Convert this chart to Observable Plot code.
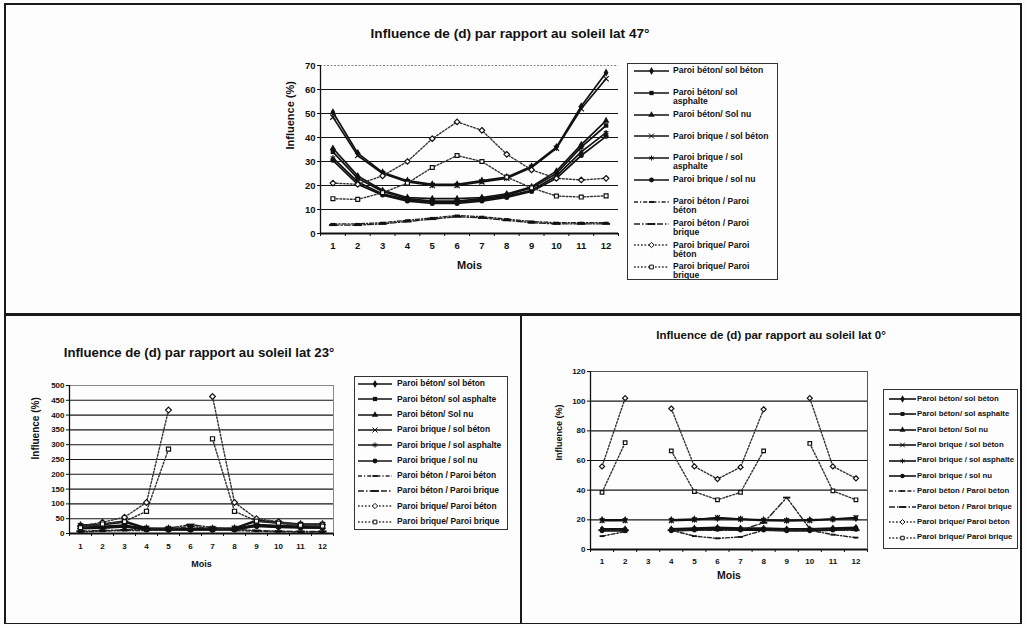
<!DOCTYPE html>
<html><head><meta charset="utf-8">
<script src="https://cdn.jsdelivr.net/npm/d3@7"></script>
<script src="https://cdn.jsdelivr.net/npm/@observablehq/plot@0.6"></script>
<style>
body{margin:0;background:#fdfdfd;font-family:"Liberation Sans",Arial,sans-serif;}
#page{position:relative;width:1026px;height:628px;overflow:hidden;background:#fdfdfd;}
.rule{position:absolute;background:#1a1a1a;}
.title{position:absolute;font-weight:bold;white-space:nowrap;transform:translate(-50%,-50%);color:#111;}
.chart{position:absolute;}
.legend{position:absolute;border:1px solid #333;overflow:hidden;background:#fdfdfd;box-sizing:border-box;}
.row{position:absolute;left:0;font-weight:bold;color:#111;white-space:pre;}
.row svg{position:absolute;}
.row span{position:absolute;line-height:1.05;}
</style></head><body><div id="page"></div>
<script>
// ---------- data ----------
const months = [1,2,3,4,5,6,7,8,9,10,11,12];
const seriesNames = [
  "Paroi béton/ sol béton",
  "Paroi béton/ sol asphalte",
  "Paroi béton/ Sol nu",
  "Paroi brique / sol béton",
  "Paroi brique / sol asphalte",
  "Paroi brique / sol nu",
  "Paroi béton / Paroi béton",
  "Paroi béton / Paroi brique",
  "Paroi brique/ Paroi béton",
  "Paroi brique/ Paroi brique"
];
const titles = [
  "Influence de (d) par rapport au soleil lat 47°",
  "Influence de (d) par rapport au soleil lat 23°",
  "Influence de (d) par rapport au soleil lat 0°"
];
const xTitle = "Mois";
const yTitle = "Influence (%)";
const yTicks47 = [0,10,20,30,40,50,60,70];
const yTicks23 = [0,50,100,150,200,250,300,350,400,450,500];
const yTicks0 = [0,20,40,60,80,100,120];

// lat 47° — one row per series, one value per month
const lat47 = [
  [50.5,33.5,25.5,22,20.5,20.5,22,23.5,28,36,53,67],
  [34,23,17.5,14.5,13.5,13.5,14.5,16,19,25,36,45],
  [35.5,24,18,15,14.5,14.5,15,16.5,19.5,26,37,47],
  [48.5,32.5,25,21.5,20,20,21.5,23,27.5,35.5,52,64.5],
  [31.5,21.5,16.5,14,13,13,14,15.5,18,24,34,42],
  [30.5,20.5,16,13.5,12.5,12.5,13.5,15,17.5,23,32.5,40.5],
  [4,4,4.5,5.5,6.5,7.5,7,6,5,4.5,4.5,4.5],
  [3.5,3.5,4,5,6,7,6.5,5.5,4.5,4,4,4],
  [21,20.5,24,30,39.5,46.5,43,33,26.5,23,22.3,23],
  [14.5,14.2,17,21,27.5,32.5,30,23.5,19,15.6,15.2,15.7]
];
// lat 23°
const lat23 = [
  [28,32,42,18,17,17,17,18,45,38,32,32],
  [20,22,26,15,14,14,14,15,28,25,23,22],
  [22,24,28,16,15,15,15,16,30,27,24,23],
  [26,30,38,17,16,16,16,17,42,35,30,30],
  [18,20,24,14,13,13,13,14,26,23,21,20],
  [16,18,22,13,12,12,12,13,24,21,19,18],
  [5,8,10,10,12,25,15,10,8,6,5,5],
  [8,10,12,14,18,30,20,14,10,8,7,7],
  [25,38,55,105,417,null,463,105,50,40,30,30],
  [20,32,40,75,285,null,320,75,42,35,28,25]
];
// lat 0°
const lat0 = [
  [20,20,null,20,20.5,21,20.5,20,19.5,20,20.5,21],
  [13.5,13.5,null,13.5,14,14.5,14,14,13.5,13.5,14,14.5],
  [14,14,null,14,14.5,15,14.5,14.5,14,14,14.5,15],
  [19.5,19.5,null,19.5,20,21.5,20.5,19.5,19.5,19.5,20.5,21.5],
  [13,13,null,13,13.5,14,13.5,13.5,13,13,13.5,14],
  [12.5,12.5,null,12.5,13,13.5,13,13,12.5,12.5,13,13.5],
  [9,12,null,13,9,7.5,8.5,13,13,13,10,8],
  [13,13,null,13,13,13,13,18,35,14,13,13],
  [56,102,null,95,56,47.5,55.5,94.5,null,102,56,48],
  [38.5,72,null,66.5,39,33.5,38.5,66.5,null,71.5,39.5,33.5]
];

// ---------- styles ----------
const dashSym = (k) => ({draw(ctx, size){ const w = Math.sqrt(size); ctx.rect(-w*k, -w*0.22, 2*w*k, w*0.44); }});
const seriesStyle = [
  {symbol: d3.symbolDiamond, fill: true},
  {symbol: d3.symbolSquare, fill: true},
  {symbol: d3.symbolTriangle, fill: true},
  {symbol: d3.symbolX, fill: false},
  {symbol: d3.symbolAsterisk, fill: false},
  {symbol: d3.symbolCircle, fill: true},
  {symbol: dashSym(0.6), fill: true, dash: "4,2,1.2,2", color: "#222"},
  {symbol: dashSym(0.9), fill: true, dash: "6,2,1.5,2", color: "#222"},
  {symbol: d3.symbolDiamond2, fill: false, open: true, dash: "1.7,1.8", color: "#333"},
  {symbol: d3.symbolSquare2, fill: false, open: true, dash: "1.7,1.8", color: "#333"}
];

const page = document.getElementById("page");
function div(cls, css, text) {
  const d = document.createElement("div");
  d.className = cls;
  Object.assign(d.style, css);
  if (text != null) d.textContent = text;
  page.appendChild(d);
  return d;
}

// frame rules of the scanned page
[[4,3,1018,2],[4,3,1.5,621],[1020,3,1.5,621],[4,622.5,1018,1.5],[4,313,1018,2.5],[520,314,1.5,310]]
  .forEach(([l,t,w,h]) => div("rule", {left:l+"px", top:t+"px", width:w+"px", height:h+"px"}));

function makeChart(cfg) {
  const {values, ticks, left, top, width, height, margins, tickFont, r,
         xPad, mois, infl, frameStyle} = cfg;
  const [mt, mr, mb, ml] = margins;
  const boundaries = months.map(m => m - 0.5).concat([months[months.length-1] + 0.5]);
  const ymax = ticks[ticks.length - 1];
  const marks = [];
  marks.push(Plot.ruleY(ticks.filter(t => t > 0 && t < ymax), {stroke: "#161616", strokeWidth: 1.1}));
  if (frameStyle === "dotted") {
    marks.push(Plot.ruleY([ymax], {stroke: "#888", strokeWidth: 1, strokeDasharray: "2,1.5"}));
  } else {
    marks.push(Plot.frame({stroke: frameStyle, strokeWidth: 1}));
  }
  values.forEach((vals, i) => {
    const s = seriesStyle[i];
    const rows = months.map((m, j) => ({month: m, value: vals[j], series: seriesNames[i]}));
    marks.push(Plot.line(rows, {x: "month", y: "value", stroke: s.color || "#111",
      strokeWidth: s.dash ? 1.4 : 1.7, strokeDasharray: s.dash || null}));
  });
  values.forEach((vals, i) => {
    const s = seriesStyle[i];
    const rows = months.map((m, j) => ({month: m, value: vals[j], series: seriesNames[i]}));
    marks.push(Plot.dot(rows, {x: "month", y: "value", symbol: s.symbol, r: r,
      fill: s.fill ? "#111" : (s.open ? "#fdfdfd" : "none"),
      stroke: s.fill ? "none" : "#111", strokeWidth: 1.2}));
  });
  marks.push(Plot.ruleX([boundaries[0]], {stroke: "#111", strokeWidth: 1.3}));
  marks.push(Plot.ruleY([0], {stroke: "#111", strokeWidth: 2}));
  marks.push(Plot.axisY({ticks: ticks, tickSize: 3, tickPadding: 2, label: null, stroke: "#111"}));
  marks.push(Plot.axisX({ticks: months, tickSize: 0, tickPadding: xPad, label: null, tickFormat: d => String(d)}));
  marks.push(Plot.axisX({ticks: boundaries, tickSize: 3, tickFormat: () => "", label: null, stroke: "#111"}));
  marks.push(Plot.text([xTitle], {frameAnchor: "bottom", dy: mois.dy, fontSize: mois.size, fontWeight: "bold"}));
  marks.push(Plot.text([yTitle], {frameAnchor: "left", dx: infl.dx, rotate: -90, fontSize: infl.size, fontWeight: "bold"}));
  const svg = Plot.plot({
    width, height,
    marginTop: mt, marginRight: mr, marginBottom: mb, marginLeft: ml,
    x: {type: "linear", domain: [boundaries[0], boundaries[boundaries.length-1]]},
    y: {type: "linear", domain: [0, ymax]},
    style: {background: "transparent", fontFamily: "Liberation Sans, Arial, sans-serif",
            fontSize: tickFont + "px", fontWeight: "bold", color: "#111", overflow: "visible"},
    marks
  });
  const holder = div("chart", {left: left + "px", top: top + "px", width: width + "px", height: height + "px"});
  holder.appendChild(svg);
}

function wrapLabel(text, maxChars) {
  if (!maxChars) return text;
  const words = text.split(" ");
  const lines = [];
  let cur = "";
  for (const w of words) {
    const t = cur ? cur + " " + w : w;
    if (t.length > maxChars && cur) { lines.push(cur); cur = w; } else cur = t;
  }
  lines.push(cur);
  return lines.join("\n");
}

function swatch(style, w, h, r) {
  const svg = d3.create("svg").attr("width", w).attr("height", h);
  svg.append("line").attr("x1", 0).attr("x2", w).attr("y1", h/2).attr("y2", h/2)
    .attr("stroke", style.color || "#111").attr("stroke-width", style.dash ? 1.3 : 1.6)
    .attr("stroke-dasharray", style.dash || null);
  svg.append("path").attr("transform", `translate(${w/2},${h/2})`)
    .attr("d", d3.symbol(style.symbol, Math.PI * r * r)())
    .attr("fill", style.fill ? "#111" : (style.open ? "#fdfdfd" : "none"))
    .attr("stroke", style.fill ? "none" : "#111").attr("stroke-width", 1);
  return svg.node();
}

function makeLegend(cfg) {
  const {left, top, width, height, row0, step, swX, swW, txtX, font, r, wrap} = cfg;
  const box = div("legend", {left: left+"px", top: top+"px", width: width+"px", height: height+"px"});
  seriesNames.forEach((name, i) => {
    const row = document.createElement("div");
    row.className = "row";
    const cy = row0 + step * i;
    row.style.top = (cy - 5) + "px";
    const sw = swatch(seriesStyle[i], swW, 10, r);
    sw.style.left = swX + "px"; sw.style.top = "0px";
    row.appendChild(sw);
    const sp = document.createElement("span");
    sp.textContent = wrapLabel(name, wrap);
    sp.style.left = txtX + "px";
    sp.style.top = (5 - font * 0.55) + "px";
    sp.style.fontSize = font + "px";
    row.appendChild(sp);
    box.appendChild(row);
  });
}

// titles
div("title", {left: "510px", top: "33px", fontSize: "13.6px"}, titles[0]);
div("title", {left: "199px", top: "352px", fontSize: "13.2px"}, titles[1]);
div("title", {left: "771px", top: "335px", fontSize: "11.5px"}, titles[2]);

// lat 47
makeChart({values: lat47, ticks: yTicks47, left: 270, top: 55, width: 360, height: 225,
  margins: [10, 12, 47, 50], tickFont: 9.5, r: 2.5, xPad: 9,
  mois: {dy: 35, size: 11}, infl: {dx: -30, size: 11}, frameStyle: "dotted"});
makeLegend({left: 627, top: 63, width: 151, height: 217, row0: 7, step: 21.8,
  swX: 6, swW: 35, txtX: 45, font: 8.6, r: 2.4, wrap: 24});

// lat 23
makeChart({values: lat23, ticks: yTicks23, left: 20, top: 375, width: 325, height: 200,
  margins: [10, 12, 42, 49], tickFont: 8, r: 2.6, xPad: 10,
  mois: {dy: 33, size: 9}, infl: {dx: -34, size: 10}, frameStyle: "#888"});
makeLegend({left: 354, top: 376, width: 154, height: 154, row0: 7, step: 15.3,
  swX: 3, swW: 34, txtX: 42, font: 8.4, r: 2.4, wrap: 0});

// lat 0
makeChart({values: lat0, ticks: yTicks0, left: 545, top: 360, width: 330, height: 232,
  margins: [11, 8, 43, 45], tickFont: 8, r: 2.3, xPad: 8.5,
  mois: {dy: 29, size: 10.5}, infl: {dx: -31, size: 9}, frameStyle: "#555"});
makeLegend({left: 883, top: 389, width: 135, height: 160, row0: 9, step: 15.4,
  swX: 5, swW: 27, txtX: 33, font: 7.8, r: 2.2, wrap: 0});
</script>
</body></html>
